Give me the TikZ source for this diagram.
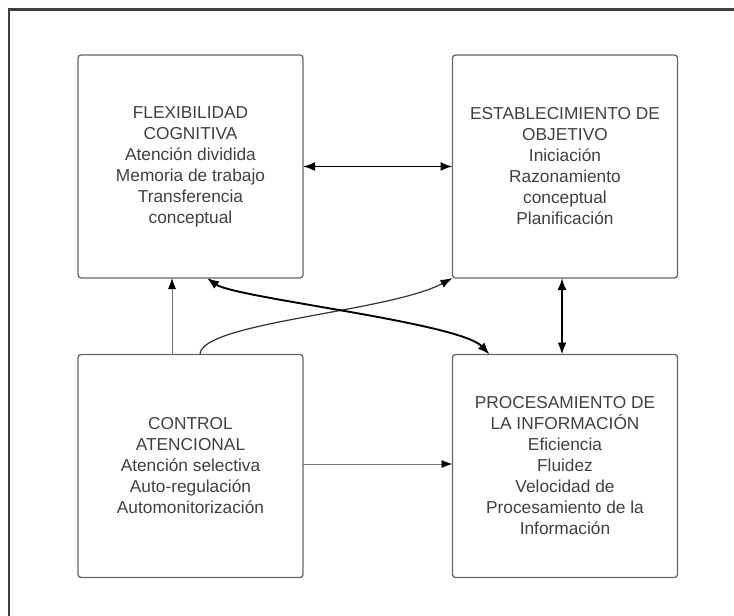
\documentclass[tikz,border=0pt]{standalone}
\usepackage{fontspec}
\setmainfont{Liberation Sans}
\usetikzlibrary{arrows.meta,calc}
\begin{document}
\begin{tikzpicture}[x=1pt,y=-1pt,
  box/.style={draw=black!60, line width=1.3pt, rounded corners=3pt,
    minimum width=225pt, minimum height=223pt, inner sep=0pt, outer sep=0pt,
    align=center, text=black!75, font=\fontsize{17.3pt}{21pt}\selectfont},
  strong/.style={line width=1.9pt, black, {Latex[length=12pt,width=9pt]}-{Latex[length=12pt,width=9pt]}},
  weak/.style={line width=0.9pt, black!55, -{Latex[length=11pt,width=8pt,black]}},
  mid/.style={line width=1.2pt, black!80, -{Latex[length=12pt,width=8.5pt,black]}},
  frame/.style={line width=2.2pt, black!75}]
\useasboundingbox (0,0) rectangle (734,616);
\coordinate (f1) at (9,616);
\coordinate (f2) at (9,9.5);
\coordinate (f3) at (734,9.5);
\draw[frame] (f1) -- (f2) -- (f3);
\node[box] (tl) at (190.5,166.5) {FLEXIBILIDAD\\COGNITIVA\\Atención dividida\\Memoria de trabajo\\Transferencia\\conceptual};
\node[box] (tr) at (565,166.5) {ESTABLECIMIENTO DE\\OBJETIVO\\Iniciación\\Razonamiento\\conceptual\\Planificación};
\node[box] (bl) at (190.5,466) {CONTROL\\ATENCIONAL\\Atención selectiva\\Auto-regulación\\Automonitorización};
\node[box] (br) at (565,466) {PROCESAMIENTO DE\\LA INFORMACIÓN\\Eficiencia\\Fluidez\\Velocidad de\\Procesamiento de la\\Información};
\draw[strong] (tl.east) -- (tr.west);
\draw[strong] ($(tr.south)+(-3,0)$) -- ($(br.north)+(-3,0)$);
\draw[weak] ($(bl.east)+(0,-2)$) -- ($(br.west)+(0,-2)$);
\draw[weak] ($(bl.north west)+(94,0)$) -- ($(tl.south west)+(94,0)$);
\draw[mid] ($(bl.north west)+(122,0)$) .. controls +(0,-32) and +(-63,34) .. (tr.south west);
\draw[strong] ($(tl.south west)+(129,0)$) .. controls +(28,20) and +(-30,-32) .. ($(br.north west)+(37,0)$);
\end{tikzpicture}
\end{document}
